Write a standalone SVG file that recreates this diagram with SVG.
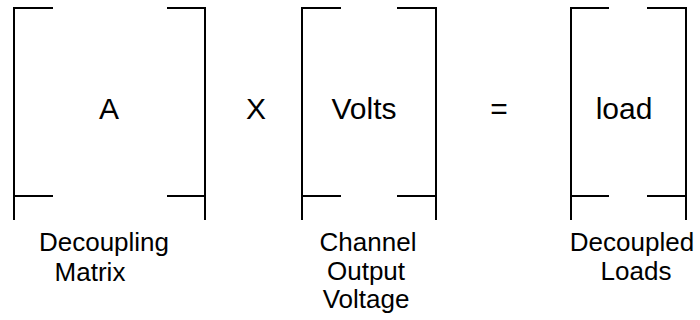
<svg xmlns="http://www.w3.org/2000/svg" width="700" height="320" viewBox="0 0 700 320">
<style>
.br{fill:none;stroke:#000;stroke-width:2}
.big{font-family:"Liberation Sans",Arial,sans-serif;font-size:30px;fill:#000;text-anchor:middle}
.lbl{font-family:"Liberation Sans",Arial,sans-serif;font-size:26px;fill:#000;text-anchor:middle}
</style>
<rect width="700" height="320" fill="#fff"/>
<g id="matrixA">
<path class="br" d="M53,8H14V220M14,196H53M167,8H205V220M205,196H167"/>
<text class="big" x="109" y="119">A</text>
<text class="lbl" x="104" y="251">Decoupling</text>
<text class="lbl" x="90" y="281">Matrix</text>
</g>
<g id="times"><text class="big" x="256" y="119">X</text></g>
<g id="volts">
<path class="br" d="M341,8H302V220M302,196H341M397,8H436V220M436,196H397"/>
<text class="big" x="364" y="119">Volts</text>
<text class="lbl" x="368" y="251">Channel</text>
<text class="lbl" x="366" y="280">Output</text>
<text class="lbl" x="366" y="308">Voltage</text>
</g>
<g id="equals"><text class="big" x="499" y="119">=</text></g>
<g id="load">
<path class="br" d="M609,8H571V220M571,196H609M647,8H686V220M686,196H647"/>
<text class="big" x="624" y="119">load</text>
<text class="lbl" x="632" y="251">Decoupled</text>
<text class="lbl" x="636" y="280">Loads</text>
</g>
<g id="connectors"/>
</svg>
